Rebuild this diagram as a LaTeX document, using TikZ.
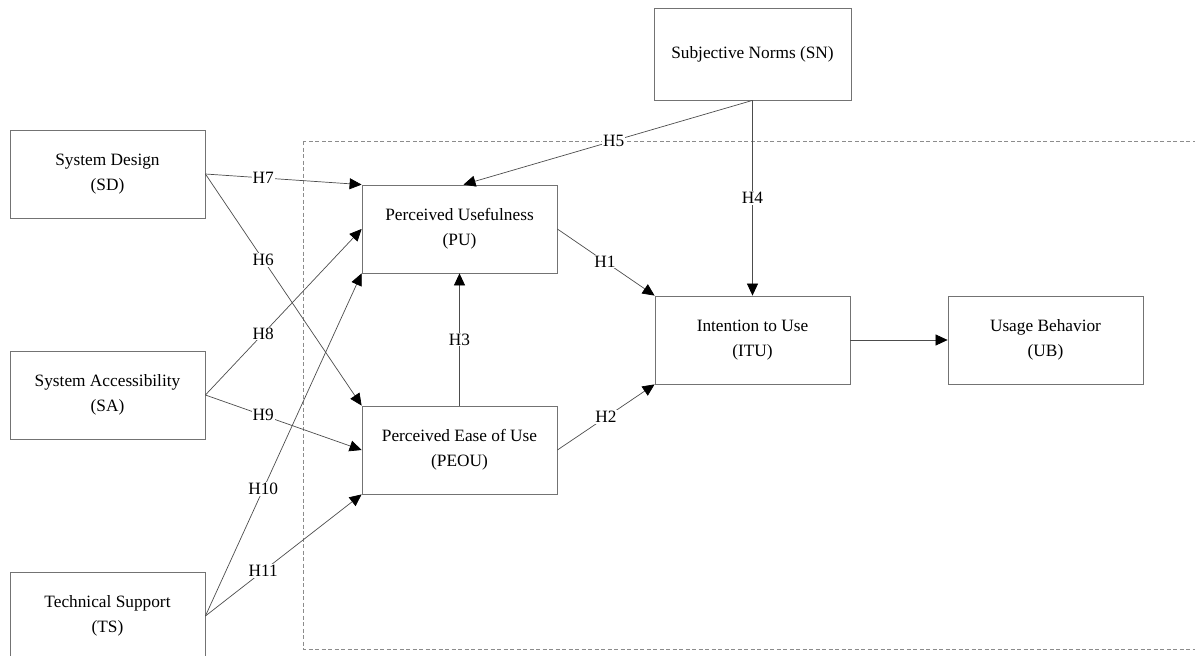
\documentclass[tikz,border=0pt]{standalone}
\usepackage{fontspec}
\setmainfont{Liberation Serif}
\usetikzlibrary{arrows.meta}

\begin{document}
\begin{tikzpicture}[
		x=1pt, y=-1pt,
		box/.style={draw=black!55,line width=0.8pt,minimum width=195pt,minimum height=88pt,align=center,inner sep=2pt,font=\fontsize{17.3}{25}\selectfont},
		hyp/.style={fill=white,inner sep=1pt,font=\fontsize{17.3}{20}\selectfont},
		link/.style={draw=black!70,line width=0.7pt,->},
		>={Triangle[length=12pt,width=11pt,color=black]}]
	\useasboundingbox (0,0) rectangle (1195,656);
	\clip (0,0) rectangle (1195,656);
	%% model frame
	\draw[black!45,line width=0.8pt,dash pattern=on 4pt off 2.5pt] (303,141) rectangle (1220,649);
	%% define constructs
	\node (SD) at (107.5,174) [box] {System Design\\(SD)};
	\node (SA) at (107.5,395) [box] {System Accessibility\\(SA)};
	\node (TS) at (107.5,616) [box] {Technical Support\\(TS)};
	\node (PU) at (459.5,229) [box] {Perceived Usefulness\\(PU)};
	\node (PEOU) at (459.5,450) [box] {Perceived Ease of Use\\(PEOU)};
	\node (ITU) at (752.5,340) [box] {Intention to Use\\(ITU)};
	\node (UB) at (1045.5,340) [box] {Usage Behavior\\(UB)};
	\node (SN) at (752.5,54) [box,minimum width=197pt,minimum height=92pt] {Subjective Norms (SN)};
	%% define arrows
	\draw[link] (PU.east) -- node[hyp,pos=0.49] {H1} (ITU.north west);
	\draw[link] (PEOU.east) -- node[hyp,pos=0.5] {H2} (ITU.south west);
	\draw[link] (PEOU.north) -- node[hyp,pos=0.5] {H3} (PU.south);
	\draw[link] (SN.south) -- node[hyp,pos=0.5] {H4} (ITU.north);
	\draw[link] (SN.south) -- node[hyp,pos=0.48] {H5} ([xshift=4pt]PU.north);
	\draw[link] (SD.east) -- node[hyp,pos=0.37] {H6} (PEOU.north west);
	\draw[link] (SD.east) -- node[hyp,pos=0.37] {H7} (PU.north west);
	\draw[link] (SA.east) -- node[hyp,pos=0.37] {H8} (PU.west);
	\draw[link] (SA.east) -- node[hyp,pos=0.37] {H9} (PEOU.west);
	\draw[link] (TS.east) -- node[hyp,pos=0.37] {H10} (PU.south west);
	\draw[link] (TS.east) -- node[hyp,pos=0.37] {H11} (PEOU.south west);
	\draw[link] (ITU.east) -- (UB.west);
\end{tikzpicture}
\end{document}
